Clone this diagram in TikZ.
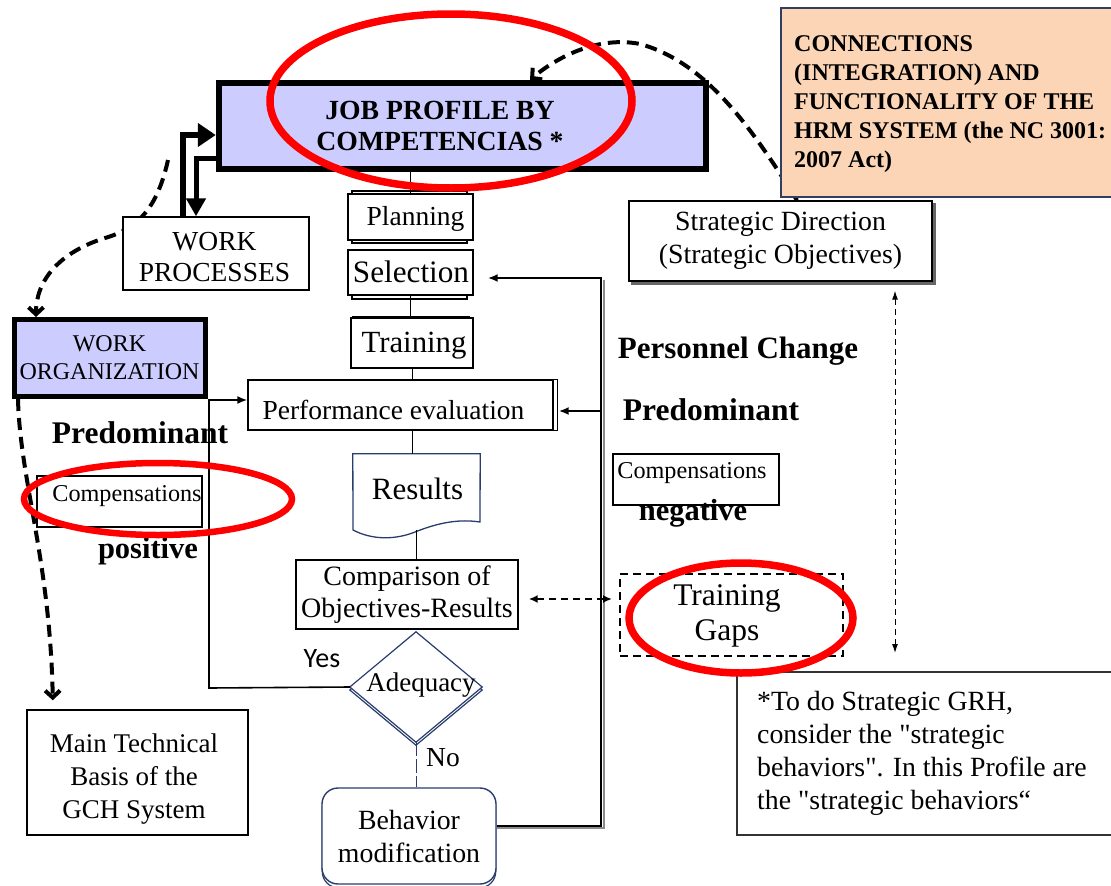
\documentclass[tikz,border=0pt]{standalone}
\usepackage{fontspec}
\setmainfont{Liberation Serif}
\newfontfamily\carl{Carlito}
\usetikzlibrary{arrows.meta,calc}
\definecolor{lav}{RGB}{204,204,255}
\definecolor{peach}{RGB}{251,213,181}
\definecolor{navyc}{RGB}{40,60,110}
\definecolor{connc}{RGB}{50,62,95}
\newcommand{\myfs}[2]{\fontsize{#1pt}{#2pt}\selectfont}
\pgfdeclarelayer{bg}
\pgfsetlayers{bg,main}
\begin{document}
\begin{tikzpicture}[x=1pt,y=-1pt,
  box/.style={draw, line width=1.4pt, fill=white, inner sep=0pt, align=center},
  lbl/.style={inner sep=0pt, align=center},
  conn/.style={line width=1pt},
  dashcurve/.style={line width=4pt, dash pattern=on 12pt off 7pt, -{Straight Barb[length=7pt,width=15pt]}},
  redring/.style={draw=red, line width=7.5pt},
  tipa/.style={-{Latex[length=10pt,width=8pt]}},
]
\useasboundingbox (0,0) rectangle (1111,886);

% ---------- boxes ----------
\node[box, line width=6.5pt, fill=lav, minimum width=487pt, minimum height=86pt] (job) at (462.5,126) {};
\node[lbl, font={\bfseries\myfs{27.7}{31}}] (jobt) at (440,125.5) {JOB PROFILE BY\\COMPETENCIAS *};

\node[box, draw=connc, line width=1.8pt, fill=peach, minimum width=340pt, minimum height=189pt] (conn) at (951,102.5) {};
\node[anchor=west, align=left, inner sep=0pt, font={\bfseries\myfs{24}{29}}] (connt) at (794,104) {CONNECTIONS\\(INTEGRATION) AND\\FUNCTIONALITY OF THE\\HRM SYSTEM (the NC 3001:\\2007 Act)};

\node[box, minimum width=303pt, minimum height=80pt, font={\myfs{27.8}{33}}] (strat) at (780.5,241) {Strategic Direction\\(Strategic Objectives)};

\node[box, minimum width=186pt, minimum height=73pt] (wp) at (216,253.5) {};
\node[lbl, font={\myfs{27.5}{31}}] (wpt) at (214.5,257.5) {WORK\\PROCESSES};
\node[box, line width=5pt, fill=lav, minimum width=191pt, minimum height=77pt, font={\myfs{24}{28}}] (wo) at (109.5,358) {WORK\\ORGANIZATION};

\node[box, minimum width=125pt, minimum height=46pt] (plan) at (410.5,217) {};
\node[lbl, font={\myfs{27.5}{30}}] (plant) at (415.5,219) {Planning};
\node[box, minimum width=125pt, minimum height=45pt] (sel) at (410.5,272.5) {};
\node[lbl, font={\myfs{31.2}{34}}] (selt) at (411,272) {Selection};
\node[box, minimum width=122pt, minimum height=50pt] (train) at (412,343) {};
\node[lbl, font={\myfs{30.8}{34}}] (traint) at (414,346) {Training};
\node[box, minimum width=305pt, minimum height=50pt] (perf) at (400.5,405) {};
\node[lbl, font={\myfs{27.5}{31}}] (perft) at (393.5,410) {Performance evaluation};

\node[lbl, minimum width=127pt, minimum height=76pt] (res) at (416.5,492) {};
\draw[navyc, line width=1.3pt] (res.north west) -- (res.north east) -- (480,522) .. controls (460,519) and (440,522) .. (415,532) .. controls (395,540) and (372,540) .. (353,530) -- cycle;
\node[lbl, font={\myfs{31}{34}}] (rest) at (417.5,489) {Results};

\node[box, minimum width=222pt, minimum height=69pt, font={\myfs{28}{32}}] (comp) at (407,594.5) {Comparison of\\Objectives-Results};

\node[lbl, minimum width=132pt, minimum height=110pt] (adeq) at (416,687) {};
\draw[navyc, line width=1.2pt] ($(adeq.north)+(0,3)$) -- ($(adeq.east)+(0,3)$) -- ($(adeq.south)+(0,3)$) -- ($(adeq.west)+(0,3)$) -- cycle;
\filldraw[fill=white, draw=navyc, line width=1.2pt] (adeq.north) -- (adeq.east) -- (adeq.south) -- (adeq.west) -- cycle;
\node[lbl, font={\myfs{27}{30}}] (adeqt) at (421,685) {Adequacy};

\node[box, draw=navyc, rounded corners=16pt, minimum width=174pt, minimum height=96pt, font={\myfs{27.8}{33}}] (beh) at (409,836) {Behavior\\modification};

\node[box, minimum width=221pt, minimum height=125pt] (mtb) at (137.5,772.5) {};
\node[lbl, font={\myfs{27}{33}}] (mtbt) at (134,779) {Main Technical\\Basis of the\\GCH System};

\node[box, minimum width=165pt, minimum height=51pt] (compL) at (119.5,501.5) {};
\node[lbl, font={\myfs{24.2}{27}}] (compLt) at (127,496) {Compensations};
\node[box, line width=1.8pt, minimum width=166pt, minimum height=51pt] (compR) at (696,479.5) {};
\node[lbl, font={\myfs{24.2}{27}}] (compRt) at (692,473) {Compensations};

\node[box, dash pattern=on 8pt off 5pt, line width=2pt, minimum width=223pt, minimum height=82pt] (tg) at (731.5,615) {};
\node[lbl, font={\myfs{31.5}{35}}] (tgt) at (727,616) {Training\\Gaps};

\node[box, draw=black!80, line width=2pt, minimum width=383pt, minimum height=163pt] (foot) at (928.5,753.5) {};
\node[anchor=west, align=left, inner sep=0pt, font={\myfs{27.8}{33}}] (foott) at (757,753.5) {*To do Strategic GRH,\\consider the \textquotedbl strategic\\behaviors\textquotedbl. In this Profile are\\the \textquotedbl strategic behaviors“};

% ---------- free labels ----------
\node[lbl, font={\bfseries\myfs{31}{34}}] (pchg) at (738,351) {Personnel Change};
\node[lbl, font={\bfseries\myfs{31.5}{34}}] (predR) at (711,410) {Predominant};
\node[lbl, font={\bfseries\myfs{31.5}{34}}] (predL) at (140,433) {Predominant};
\node[lbl, font={\bfseries\myfs{30.5}{34}}] (pos) at (148,551) {positive};
\node[lbl, font={\bfseries\myfs{30.5}{34}}] (neg) at (693,513) {negative};
\node[lbl, font={\carl\myfs{28}{30}}] (yes) at (322,659) {Yes};
\node[lbl, font={\myfs{27.5}{30}}] (no) at (443,758) {No};

% ---------- background decorations ----------
\begin{pgfonlayer}{bg}
  \draw[line width=1.2pt] (352,191) rectangle (467,243);
  \draw[line width=1.2pt] (352,252) rectangle (467,299);
  \draw[line width=2.2pt] (353,317) rectangle (469,340);
  \draw[line width=1.2pt] ($(perf.south west)+(4,0)$) rectangle ($(perf.north east)+(4,0)$);
  \fill[black!60] ($(strat.south west)+(3,3)$) rectangle ($(strat.north east)+(3,3)$);
  \draw[navyc, line width=1.2pt, rounded corners=16pt] ($(beh.south west)+(1,3)$) rectangle ($(beh.north east)+(-1,3)$);
  % dashed curves
  \coordinate (d1) at (168,160);
  \coordinate (d2) at (36,0);
  \draw[dashcurve] (d1) .. controls (158,205) and (140,228) .. (105,238) .. controls (60,252) and (36,280) .. (wo.north -| d2);
  \coordinate (d3) at (797,0);
  \coordinate (d4) at (530,0);
  \draw[dashcurve] (strat.north -| d3) .. controls (750,125) and (705,62) .. (640,44) .. controls (600,36) and (560,55) .. (job.north -| d4);
  \coordinate (d5) at (18,0);
  \coordinate (d6) at (53,0);
  \draw[dashcurve, shorten >=9pt] (wo.south -| d5) .. controls (20,480) and (50,560) .. (mtb.north -| d6);
  % gray shade of the right return line
  \coordinate (rtop) at (601,278);
  \coordinate (rbot) at (601,826);
  \draw[line width=2pt, black!45] ($(rtop)+(2.5,2)$) -- ($(rbot)+(2.5,2)$) -- ($(beh.east |- rbot)+(0,2)$);
\end{pgfonlayer}

% ---------- connectors ----------
\draw[conn] (plan.north) -- (plan.north |- job.south);
\draw[conn] (sel.south) -- (sel.south |- train.north);
\draw[conn] (train.south) -- (train.south |- perf.north);
\draw[conn] (train.south |- perf.south) -- (train.south |- res.north);
\draw[conn] (res.south) -- (res.south |- comp.north);
\draw[conn, navyc, dash pattern=on 14pt off 3pt] (adeq.south) -- (adeq.south |- beh.north);

\coordinate (rperf) at (601,411);
\draw[line width=2.3pt, tipa, shorten >=14pt] (beh.east |- rbot) -- (rbot) -- (rtop) -- (sel.east |- rtop);
\draw[line width=2pt, tipa, shorten >=5pt] (rperf) -- (perf.east |- rperf);

\coordinate (yb) at (209,688);
\coordinate (yt) at (209,400);
\draw[line width=1.6pt, tipa] (adeq.west) -- (yb) -- (yt) -- (perf.west |- yt);

\coordinate (cy) at (0,599);
\draw[line width=1.8pt, dash pattern=on 7pt off 5pt, {Latex[length=9pt,width=8pt]}-{Latex[length=9pt,width=8pt]}, shorten <=10pt, shorten >=7pt] (comp.east |- cy) -- (tg.west |- cy);

\coordinate (vx) at (895,0);
\coordinate (vb) at (895,653);
\draw[line width=1pt, dash pattern=on 6pt off 4pt, {Latex[length=9pt,width=6pt]}-{Latex[length=9pt,width=6pt]}, shorten <=9pt] (strat.south -| vx) -- (vb);

\coordinate (a1) at (183,135);
\draw[line width=6pt, -{Triangle[length=18pt,width=23pt]}] (a1 |- wp.north) -- (a1) -- (a1 -| job.west);
\coordinate (a2) at (196,158);
\draw[line width=5pt, -{Triangle[length=18pt,width=19pt]}] (a2 -| job.west) -- (a2) -- (a2 |- wp.north);

% ---------- red highlight rings ----------
\draw[redring] (451,101) ellipse [x radius=181pt, y radius=87pt];
\draw[redring, line width=6.5pt] (158,499) ellipse [x radius=134pt, y radius=36pt];
\draw[redring] (741,618) ellipse [x radius=112pt, y radius=55pt];
\end{tikzpicture}
\end{document}
